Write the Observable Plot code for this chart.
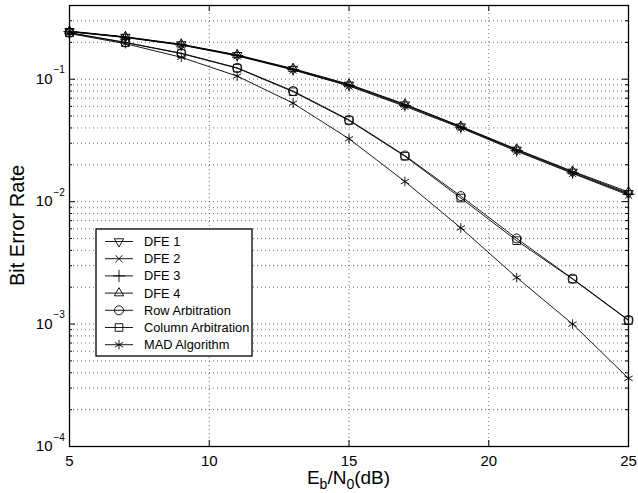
<!DOCTYPE html>
<html>
<head>
<meta charset="utf-8">
<script src="https://cdn.jsdelivr.net/npm/d3@7"></script>
<script src="https://cdn.jsdelivr.net/npm/@observablehq/plot@0.6"></script>
<style>
  html, body { margin: 0; padding: 0; background: #fff; }
  svg { font-family: "Liberation Sans", Arial, sans-serif; }
</style>
</head>
<body>
<div id="chart"></div>
<script>
// ---- data ----
const ebn0 = [5, 7, 9, 11, 13, 15, 17, 19, 21, 23, 25];
const dfe1 = [0.246, 0.221, 0.192, 0.157, 0.121, 0.090, 0.062, 0.0410, 0.0265, 0.0175, 0.0117];
const dfe2 = [0.244, 0.219, 0.190, 0.155, 0.119, 0.088, 0.060, 0.0400, 0.0258, 0.0170, 0.0113];
const dfe3 = [0.245, 0.220, 0.191, 0.156, 0.120, 0.089, 0.061, 0.0405, 0.0262, 0.0172, 0.0115];
const dfe4 = [0.247, 0.222, 0.193, 0.158, 0.122, 0.091, 0.0625, 0.0412, 0.0268, 0.0177, 0.0120];
const rowArb = [0.240, 0.200, 0.163, 0.124, 0.080, 0.0466, 0.0238, 0.0111, 0.0050, 0.00235, 0.00108];
const colArb = [0.239, 0.199, 0.162, 0.123, 0.079, 0.0460, 0.0235, 0.0107, 0.0048, 0.00233, 0.00107];
const mad = [0.236, 0.195, 0.151, 0.106, 0.0637, 0.0326, 0.0146, 0.0061, 0.0024, 0.0010, 0.00036];

const seriesNames = ["DFE 1", "DFE 2", "DFE 3", "DFE 4", "Row Arbitration", "Column Arbitration", "MAD Algorithm"];
const seriesValues = [dfe1, dfe2, dfe3, dfe4, rowArb, colArb, mad];
const seriesSymbols = ["triangle", "times", "plus", "triangle", "circle", "square", "asterisk"];
const seriesRotate = [180, 0, 0, 0, 0, 0, 0];
const seriesR = [3.5, 3.4, 4, 3.5, 4.5, 4.3, 4.5];

const xTicks = [5, 10, 15, 20, 25];
const xGrid = [10, 15, 20];
const yMajor = [1e-4, 1e-3, 1e-2, 1e-1];
const yMinor = [];
for (const d of [1e-4, 1e-3, 1e-2, 1e-1]) for (let k = 2; k <= 9; k++) { const v = d * k; if (v <= 0.4) yMinor.push(v); }
const yGrid = yMajor.concat(yMinor).filter(v => v > 1e-4);

// ---- table ----
const rows = [];
seriesNames.forEach((name, i) => {
  ebn0.forEach((x, j) => rows.push({series: name, x, y: seriesValues[i][j], symbol: seriesSymbols[i], rotate: seriesRotate[i], r: seriesR[i]}));
});

const W = 638, H = 493;
const mL = 69, mR = 10, mT = 5, mB = 47;
const iW = W - mL - mR, iH = H - mT - mB;
const gridStyle = {stroke: "#000", strokeOpacity: 0.55, strokeDasharray: "1,3", strokeWidth: 1};

const plot = Plot.plot({
  width: W, height: H,
  marginLeft: mL, marginRight: mR, marginTop: mT, marginBottom: mB,
  style: {fontFamily: "Liberation Sans, Arial, sans-serif", background: "#fff"},
  x: {domain: [5, 25]},
  y: {type: "log", domain: [1e-4, 0.4]},
  symbol: {type: "identity"},
  r: {type: "identity"},
  marks: [
    Plot.ruleY(yGrid, gridStyle),
    Plot.ruleX(xGrid, gridStyle),
    // inward ticks
    Plot.ruleY(yMajor, {stroke: "#000", insetRight: iW - 6}),
    Plot.ruleY(yMajor, {stroke: "#000", insetLeft: iW - 6}),
    Plot.ruleY(yMinor, {stroke: "#000", insetRight: iW - 3}),
    Plot.ruleY(yMinor, {stroke: "#000", insetLeft: iW - 3}),
    Plot.ruleX(xGrid, {stroke: "#000", insetTop: iH - 6}),
    Plot.ruleX(xGrid, {stroke: "#000", insetBottom: iH - 6}),
    Plot.line(rows, {x: "x", y: "y", z: "series", stroke: "#000", strokeWidth: 0.9}),
    Plot.dot(rows, {x: "x", y: "y", symbol: "symbol", rotate: "rotate", r: "r", stroke: "#000", fill: "none", strokeWidth: 0.9}),
    Plot.frame({stroke: "#000", strokeWidth: 1.3}),
    Plot.axisX(xTicks, {tickSize: 0, tickPadding: 9, fontSize: 15, label: null, fill: "#000"}),
    Plot.axisY({ticks: [], tickSize: 0, label: null}),
    Plot.text(yMajor, {y: d => d, frameAnchor: "left", text: () => "10", textAnchor: "end", dx: -17, fontSize: 15, fill: "#000"}),
    Plot.text(yMajor, {y: d => d, frameAnchor: "left", text: d => "\u2212" + Math.round(-Math.log10(d)), textAnchor: "start", dx: -16, dy: -9, fontSize: 10, fill: "#000"})
  ]
});

document.getElementById("chart").appendChild(plot);

// ---- titles and legend ----
const svg = d3.select(plot);
svg.append("text")
  .attr("transform", `translate(24,${mT + iH / 2}) rotate(-90)`)
  .attr("text-anchor", "middle")
  .attr("font-size", 20)
  .attr("fill", "#000")
  .text("Bit Error Rate");

const xt = svg.append("text")
  .attr("x", mL + iW / 2).attr("y", 484)
  .attr("text-anchor", "middle")
  .attr("font-size", 19).attr("fill", "#000");
xt.append("tspan").text("E");
xt.append("tspan").attr("font-size", 14).attr("dy", 5).text("b");
xt.append("tspan").attr("dy", -5).text("/N");
xt.append("tspan").attr("font-size", 14).attr("dy", 5).text("0");
xt.append("tspan").attr("dy", -5).text("(dB)");

const lg = svg.append("g").attr("text-anchor", "start");
const lx = 96, ly = 229, lw = 156, lh = 127, rowH = 17.2;
lg.append("rect").attr("x", lx).attr("y", ly).attr("width", lw).attr("height", lh)
  .attr("fill", "#fff").attr("stroke", "#000").attr("stroke-width", 1.3);
const symMap = {triangle: d3.symbolTriangle, times: d3.symbolTimes, plus: d3.symbolPlus, circle: d3.symbolCircle, square: d3.symbolSquare, asterisk: d3.symbolAsterisk};
seriesNames.forEach((name, i) => {
  const cy = ly + 12.5 + i * rowH;
  lg.append("line").attr("x1", lx + 9).attr("x2", lx + 37).attr("y1", cy).attr("y2", cy)
    .attr("stroke", "#000").attr("stroke-width", 0.9);
  lg.append("path")
    .attr("d", d3.symbol(symMap[seriesSymbols[i]], Math.PI * seriesR[i] * seriesR[i])())
    .attr("transform", `translate(${lx + 23},${cy}) rotate(${seriesRotate[i]})`)
    .attr("fill", "none").attr("stroke", "#000").attr("stroke-width", 0.9);
  lg.append("text").attr("x", lx + 48).attr("y", cy).attr("dy", "0.35em")
    .attr("text-anchor", "start")
    .attr("font-size", 12.8).attr("fill", "#000").text(name);
});
</script>
</body>
</html>
